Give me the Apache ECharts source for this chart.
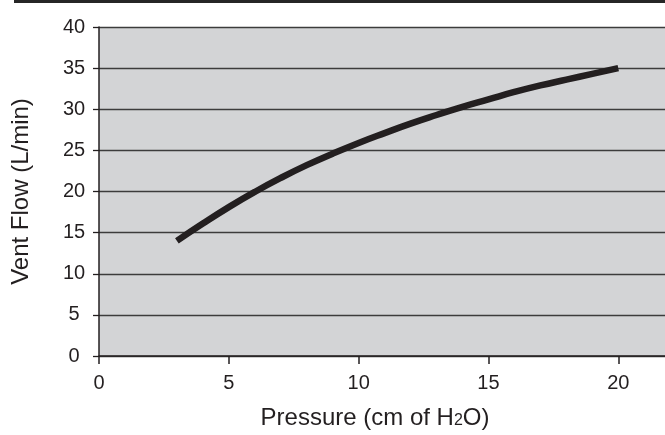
<!DOCTYPE html>
<html>
<head>
<meta charset="utf-8">
<script src="https://cdn.jsdelivr.net/npm/echarts@6/dist/echarts.min.js"></script>
<style>
html,body{margin:0;padding:0;background:#fff;}
#c{width:665px;height:435px;}
</style>
</head>
<body>
<div id="c"></div>
<script>
const pressure = [3, 4, 5, 6, 7, 8, 9, 10, 11, 12, 13, 14, 15, 16, 17, 18, 19, 20];
const ventFlow = [14.0, 16.1, 18.1, 19.95, 21.65, 23.2, 24.6, 25.9, 27.1, 28.25, 29.3, 30.3, 31.2, 32.1, 32.9, 33.6, 34.3, 35.0];
const xTicks = [0, 5, 10, 15, 20];
const yTicks = [0, 5, 10, 15, 20, 25, 30, 35, 40];
const xTitle = ['Pressure (cm of H', '2', 'O)'];
const yTitle = 'Vent Flow (L/min)';

const chart = echarts.init(document.getElementById('c'), null, {renderer: 'canvas'});
const font = '"Liberation Sans", Arial, sans-serif';
const dark = '#231f20';
const grid = '#3c3c3c';

chart.setOption({
  animation: false,
  backgroundColor: '#ffffff',
  graphic: [{
    type: 'rect',
    shape: {x: 14, y: 0, width: 651, height: 3},
    style: {fill: '#262626'},
    silent: true
  }],
  grid: {left: 99, top: 27, right: 0, bottom: 78, show: true, backgroundColor: '#d3d4d6', borderWidth: 0},
  xAxis: {
    type: 'value',
    min: 0,
    max: 21.8,
    interval: 5,
    name: '{a|' + xTitle[0] + '}{s|' + xTitle[1] + '}{a|' + xTitle[2] + '}',
    nameLocation: 'middle',
    nameGap: 50,
    nameTextStyle: {
      padding: [0, 14, 0, 0],
      rich: {
        a: {fontFamily: font, fontSize: 24, color: dark, lineHeight: 24, verticalAlign: 'bottom'},
        s: {fontFamily: font, fontSize: 16, color: dark, lineHeight: 16, verticalAlign: 'bottom', padding: [0, 0, 1, 0]}
      }
    },
    axisLine: {show: true, onZero: false, lineStyle: {color: dark, width: 1.5}},
    axisTick: {show: true, length: 8, inside: false, lineStyle: {color: dark, width: 1.5}},
    axisLabel: {
      show: true, fontFamily: font, fontSize: 20, color: dark, margin: 17,
      showMaxLabel: false,
      formatter: function (v) { return xTicks.indexOf(v) >= 0 ? String(v) : ''; }
    },
    splitLine: {show: false}
  },
  yAxis: {
    type: 'value',
    min: 0,
    max: 40,
    interval: 5,
    name: yTitle,
    nameLocation: 'middle',
    nameGap: 66,
    nameTextStyle: {fontFamily: font, fontSize: 24, color: dark},
    axisLine: {show: true, onZero: false, lineStyle: {color: dark, width: 1.5}},
    axisTick: {show: true, length: 6, lineStyle: {color: dark, width: 1.3}},
    axisLabel: {
      show: true, fontFamily: font, fontSize: 20, color: dark, margin: 25, align: 'center',
      formatter: function (v) { return yTicks.indexOf(v) >= 0 ? String(v) : ''; }
    },
    splitLine: {show: true, lineStyle: {color: grid, width: 1.3}}
  },
  series: [{
    type: 'line',
    data: pressure.map((p, i) => [p, ventFlow[i]]),
    smooth: true,
    showSymbol: false,
    symbol: 'none',
    lineStyle: {color: dark, width: 6.5, cap: 'butt'},
    clip: false
  }]
});
</script>
</body>
</html>
